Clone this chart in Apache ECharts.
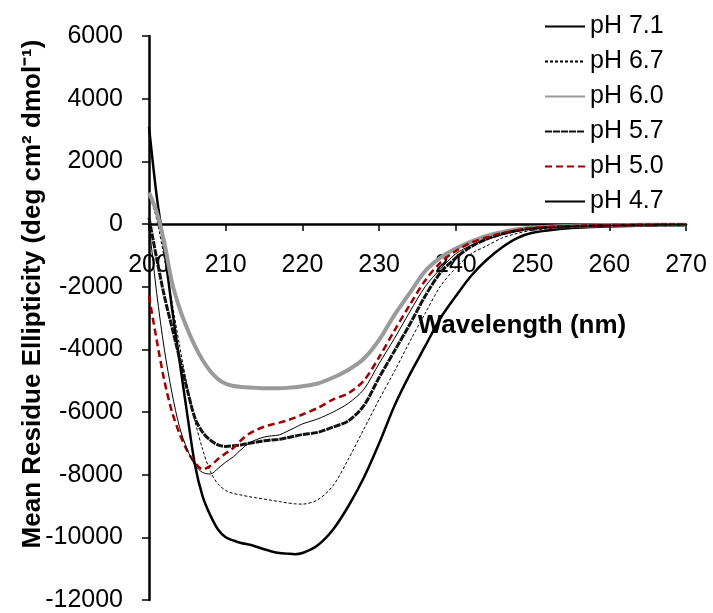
<!DOCTYPE html>
<html>
<head>
<meta charset="utf-8">
<script src="https://cdn.jsdelivr.net/npm/echarts@6/dist/echarts.min.js"></script>
<style>
  html, body { margin: 0; padding: 0; background: #fff; }
  #chart { width: 713px; height: 613px; }
</style>
</head>
<body>
<div id="chart"></div>
<script>
const wavelengths = [200, 201, 202, 203, 204, 205, 206, 207, 208, 209, 210, 211, 212, 213, 214, 215, 216, 217, 218, 219, 220,
  222, 224, 226, 228, 230, 232, 234, 236, 238, 240, 242, 244, 246, 248, 250, 255, 260, 265, 270];

const ph71 = [3100, 900, -800, -2700, -4400, -6100, -7700, -8700, -9300, -9750, -10000, -10100, -10180, -10230, -10300, -10380, -10450, -10500, -10520, -10540, -10500,
  -10250, -9750, -9000, -8100, -7000, -5800, -4800, -3900, -3000, -2300, -1650, -1150, -750, -450, -280, -130, -80, -50, -40];
const ph67 = [1000, 150, -1100, -2500, -3900, -5200, -6300, -7200, -7900, -8300, -8500, -8600, -8650, -8700, -8740, -8780, -8820, -8860, -8900, -8930, -8940,
  -8800, -8350, -7500, -6550, -5600, -4700, -3750, -2850, -1980, -1400, -950, -700, -450, -300, -200, -100, -60, -40, -30];
const ph60 = [1000, 380, -600, -1870, -2700, -3350, -3900, -4350, -4700, -4950, -5100, -5170, -5200, -5220, -5230, -5240, -5240, -5240, -5230, -5210, -5180,
  -5090, -4900, -4650, -4300, -3700, -2900, -2200, -1500, -1070, -780, -560, -380, -260, -170, -110, -60, -40, -25, -20];
const ph57 = [200, -1100, -2300, -3300, -4300, -5300, -6200, -6650, -6900, -7050, -7100, -7080, -7050, -7000, -6960, -6920, -6890, -6870, -6820, -6770, -6720,
  -6650, -6480, -6280, -5800, -4900, -4050, -3200, -2300, -1550, -1080, -720, -480, -320, -210, -140, -70, -45, -30, -20];
const ph50 = [-2300, -3700, -5000, -6000, -6700, -7250, -7620, -7830, -7720, -7500, -7320, -7140, -6900, -6700, -6570, -6470, -6400, -6340, -6270, -6180, -6080,
  -5870, -5600, -5400, -5000, -4250, -3400, -2580, -1800, -1230, -860, -600, -430, -300, -200, -130, -70, -45, -30, -20];
const ph47 = [0, -2200, -4000, -5400, -6500, -7200, -7700, -7930, -7980, -7800, -7600, -7430, -7200, -7000, -6880, -6800, -6760, -6730, -6620, -6500, -6380,
  -6220, -6000, -5720, -5280, -4450, -3650, -2800, -2000, -1430, -950, -680, -500, -340, -230, -150, -80, -50, -30, -20];

const xTicks = [200, 210, 220, 230, 240, 250, 260, 270];
const yTicks = [-12000, -10000, -8000, -6000, -4000, -2000, 0, 2000, 4000, 6000];

const font = "'Liberation Sans', Arial, sans-serif";

const chart = echarts.init(document.getElementById("chart"));

const gridTop = 36, gridBottom = 13, chartH = 613;
// shift the x axis up from the bottom edge of the grid to the y = 0 line
const plotH = chartH - gridTop - gridBottom;
const zeroOffset = -plotH * (0 - yTicks[0]) / (yTicks[yTicks.length - 1] - yTicks[0]);

const pairs = vals => wavelengths.map((w, i) => [w, vals[i]]);

const mkSeries = (name, vals, lineStyle) => ({
    name,
    type: "line",
    smooth: 0.3,
    showSymbol: false,
    symbol: "none",
    lineStyle,
    itemStyle: { color: lineStyle.color },
    data: pairs(vals)
});

const series = [
    mkSeries("pH 7.1", ph71, { color: "#000", width: 2.5, type: "solid" }),
    mkSeries("pH 6.7", ph67, { color: "#000", width: 1, type: [3, 2] }),
    mkSeries("pH 6.0", ph60, { color: "#9a9a9a", width: 4, type: "solid" }),
    mkSeries("pH 5.7", ph57, { color: "#111", width: 3, type: [7, 1] }),
    mkSeries("pH 5.0", ph50, { color: "#a00000", width: 2.5, type: [7, 4] }),
    mkSeries("pH 4.7", ph47, { color: "#000", width: 1, type: "solid" })
];

chart.setOption({
    animation: false,
    backgroundColor: "#fff",
    textStyle: { fontFamily: font },
    grid: { left: 149, right: 27, top: gridTop, bottom: gridBottom, outerBoundsMode: "none", containLabel: false },
    legend: {
        orient: "vertical",
        left: 544,
        top: 14,
        padding: 0,
        itemWidth: 40,
        itemHeight: 14,
        itemGap: 10,
        itemStyle: { opacity: 0 },
        textStyle: { fontSize: 25, color: "#000", fontFamily: font },
        data: series.map(s => s.name)
    },
    xAxis: {
        type: "value",
        min: xTicks[0],
        max: xTicks[xTicks.length - 1],
        interval: 10,
        offset: zeroOffset,
        axisLine: { onZero: false, lineStyle: { color: "#000", width: 2.5 } },
        axisTick: { show: true, inside: false, length: 7, lineStyle: { color: "#000", width: 1.5 } },
        axisLabel: { fontSize: 25, color: "#000", margin: 29, fontFamily: font },
        splitLine: { show: false }
    },
    yAxis: {
        type: "value",
        min: yTicks[0],
        max: yTicks[yTicks.length - 1],
        interval: 2000,
        axisLine: { show: true, onZero: false, lineStyle: { color: "#000", width: 2.5 } },
        axisTick: { show: true, inside: false, length: 7, lineStyle: { color: "#000", width: 1.5 } },
        axisLabel: { fontSize: 25, color: "#000", margin: 26, fontFamily: font, formatter: v => String(v) },
        splitLine: { show: false }
    },
    graphic: [
        {
            type: "text",
            x: 33,
            y: 294,
            rotation: Math.PI / 2,
            style: {
                text: "Mean Residue Ellipticity (deg cm² dmol⁻¹)",
                fontSize: 26,
                fontWeight: "bold",
                fontFamily: font,
                fill: "#000",
                align: "center",
                verticalAlign: "middle"
            }
        },
        {
            type: "text",
            x: 522,
            y: 326,
            style: {
                text: "Wavelength (nm)",
                fontSize: 26,
                fontWeight: "bold",
                fontFamily: font,
                fill: "#000",
                align: "center",
                verticalAlign: "middle"
            }
        }
    ],
    series
});
</script>
</body>
</html>
